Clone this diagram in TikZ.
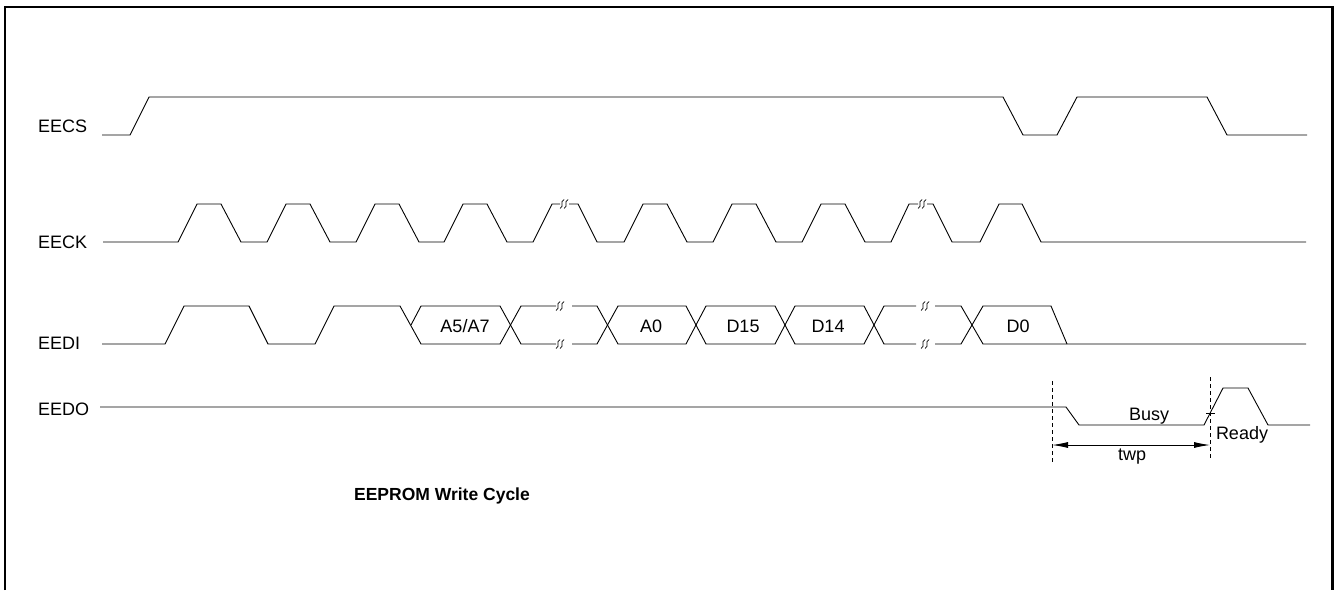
\documentclass[tikz,border=0pt]{standalone}
\usepackage{fontspec}
\setmainfont{Liberation Sans}
\usetikzlibrary{arrows.meta}

\begin{document}
\begin{tikzpicture}[x=1pt, y=-1pt,
    sig/.style = {black, line width=0.9pt, line join=round},
    brk/.style = {black, line width=0.7pt},
    lbl/.style = {anchor=base west, inner sep=0pt, font=\fontsize{18}{20}\selectfont},
    txt/.style = {anchor=base, inner sep=0pt, font=\fontsize{18}{20}\selectfont}
                    ]
    \useasboundingbox (0,0) rectangle (1335,590);
    \def\csLo{135}
    \def\csHi{97}
    \def\ckLo{242}
    \def\ckHi{204}
    \def\diLo{344}
    \def\diHi{306}
    \def\diMid{325}
    \def\doY{407}
    % two small wavy marks for a cut in the time axis
    \def\squig#1#2{
        \draw[brk] (#1-2,#2+4.5) .. controls (#1+3,#2+2) and (#1-3,#2-2) .. (#1+2,#2-4.5);
        \draw[brk] (#1+2,#2+4.5) .. controls (#1+7,#2+2) and (#1+1,#2-2) .. (#1+6,#2-4.5);
    }
    % frame
    \draw[line width=2.5pt] (5,590) -- (5,7) -- (1332.5,7) -- (1332.5,590);
    % signal names
    \node[lbl] (lblcs) at (38,132) {EECS};
    \node[lbl] (lblck) at (38,248) {EECK};
    \node[lbl] (lbldi) at (38,349) {EEDI};
    \node[lbl] (lbldo) at (38,415) {EEDO};
    % EECS
    \draw[sig] (102,\csLo) -- (130,\csLo) -- (149,\csHi) -- (1003,\csHi) -- (1023,\csLo)
        -- (1057,\csLo) -- (1077,\csHi) -- (1207,\csHi) -- (1227,\csLo) -- (1307,\csLo);
    % EECK
    \draw[sig] (103,\ckLo) \foreach \x in {178,267,356,444} {
        -- (\x,\ckLo) -- (\x+19,\ckHi) -- (\x+43,\ckHi) -- (\x+63,\ckLo) }
        -- (533,\ckLo) -- (552,\ckHi) -- (560,\ckHi);
    \squig{562}{\ckHi}
    \draw[sig] (569,\ckHi) -- (578,\ckHi) -- (597,\ckLo) \foreach \x in {624,713,802} {
        -- (\x,\ckLo) -- (\x+19,\ckHi) -- (\x+43,\ckHi) -- (\x+63,\ckLo) }
        -- (891,\ckLo) -- (909,\ckHi) -- (918,\ckHi);
    \squig{920}{\ckHi}
    \draw[sig] (927,\ckHi) -- (933,\ckHi) -- (952,\ckLo) -- (980,\ckLo) -- (999,\ckHi)
        -- (1022,\ckHi) -- (1041,\ckLo) -- (1306,\ckLo);
    % EEDI lower rail
    \draw[sig] (102,\diLo) -- (165,\diLo) -- (184,\diHi) -- (249,\diHi) -- (268,\diLo)
        -- (315,\diLo) -- (334,\diHi) -- (400,\diHi) -- (421,\diLo) -- (500,\diLo)
        -- (521,\diHi) -- (556,\diHi);
    \draw[sig] (572,\diHi) -- (597,\diHi) -- (618,\diLo) -- (686,\diLo) -- (706,\diHi)
        -- (775,\diHi) -- (795,\diLo) -- (864,\diLo) -- (884,\diHi) -- (916,\diHi);
    \draw[sig] (935,\diHi) -- (961,\diHi) -- (983,\diLo) -- (1306,\diLo);
    % EEDI upper rail
    \draw[sig] (411,\diMid) -- (421,\diHi) -- (500,\diHi) -- (521,\diLo) -- (556,\diLo);
    \draw[sig] (572,\diLo) -- (597,\diLo) -- (618,\diHi) -- (686,\diHi) -- (706,\diLo)
        -- (775,\diLo) -- (795,\diHi) -- (864,\diHi) -- (884,\diLo) -- (916,\diLo);
    \draw[sig] (935,\diLo) -- (961,\diLo) -- (983,\diHi) -- (1051,\diHi) -- (1067,\diLo);
    \squig{558}{\diHi}
    \squig{558}{\diLo}
    \squig{923}{\diHi}
    \squig{923}{\diLo}
    % data words
    \node[txt] (wa57) at (465,332) {A5/A7};
    \node[txt] (wa0) at (651,332) {A0};
    \node[txt] (wd15) at (743,332) {D15};
    \node[txt] (wd14) at (828,332) {D14};
    \node[txt] (wd0) at (1018,332) {D0};
    % EEDO
    \draw[sig] (100,\doY) -- (1066,\doY) -- (1079,425) -- (1204,425) -- (1223,388)
        -- (1248,388) -- (1268,425) -- (1310,425);
    \draw[sig] (1206,413) -- (1215,413);
    \draw[dashed, line width=0.7pt, dash pattern=on 4pt off 3pt] (1052,381) -- (1052,463);
    \draw[dashed, line width=0.7pt, dash pattern=on 4pt off 3pt] (1210,377) -- (1210,460);
    \coordinate (twpL) at (1052,445);
    \coordinate (twpR) at (1210,445);
    \draw[line width=0.9pt, {Latex[length=16pt,width=6pt]}-{Latex[length=16pt,width=6pt]}] (twpL) -- (twpR);
    \node[txt] (busy) at (1149,420) {Busy};
    \node[txt] (ready) at (1242,439) {Ready};
    \node[txt] (twp) at (1132,460) {twp};
    % caption
    \node[anchor=base, inner sep=0pt, font=\fontsize{17.5}{20}\selectfont\bfseries] (title) at (442,500) {EEPROM Write Cycle};
\end{tikzpicture}
\end{document}
